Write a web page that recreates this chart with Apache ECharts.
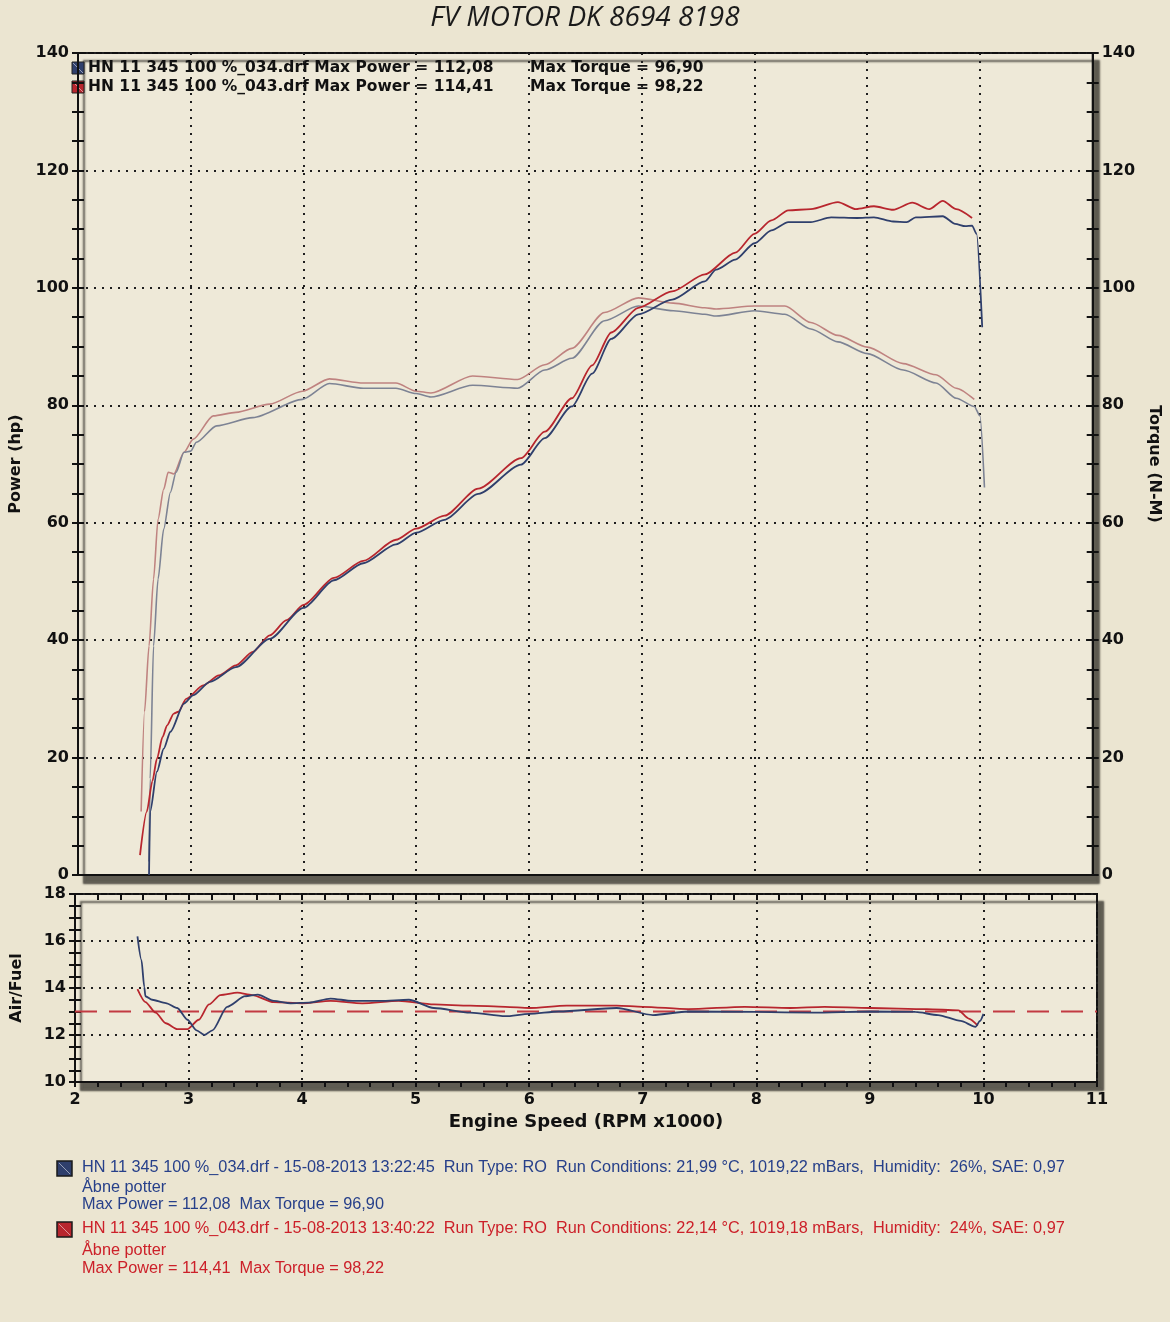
<!DOCTYPE html>
<html>
<head>
<meta charset="utf-8">
<title>FV MOTOR DK 8694 8198</title>
<script src="https://cdn.jsdelivr.net/npm/echarts@6/dist/echarts.min.js"></script>
<style>
  html, body { margin: 0; padding: 0; background: #ebe5d1; }
  #main { width: 1170px; height: 1322px; }
</style>
</head>
<body>
<div id="main"></div>
<script>
// --- data (rpm x1000) ---
var redPowerRpm = [2.55, 2.61, 2.66, 2.70, 2.75, 2.79, 2.85, 2.89, 2.96, 3.11, 3.25, 3.40, 3.55, 3.70, 3.85, 4.00, 4.27, 4.53, 4.82, 5.00, 5.25, 5.55, 5.93, 6.14, 6.38, 6.56, 6.73, 6.97, 7.27, 7.56, 7.83, 8.00, 8.15, 8.30, 8.50, 8.74, 8.90, 9.06, 9.23, 9.40, 9.55, 9.67, 9.79, 9.93];
var redPower    = [3.4, 10.8, 16.0, 19.8, 23.5, 25.5, 27.5, 27.8, 30.0, 32.3, 34.0, 35.7, 38.0, 40.8, 43.4, 46.0, 50.6, 53.5, 57.1, 59.0, 61.2, 65.8, 71.0, 75.5, 81.2, 86.8, 92.4, 96.6, 99.4, 102.3, 106.0, 109.2, 111.5, 113.2, 113.4, 114.6, 113.4, 113.9, 113.3, 114.5, 113.4, 114.8, 113.4, 111.9];

var bluePowerRpm = [2.63, 2.64, 2.70, 2.76, 2.82, 2.94, 3.02, 3.17, 3.40, 3.70, 4.00, 4.27, 4.53, 4.82, 5.00, 5.25, 5.55, 5.93, 6.14, 6.38, 6.56, 6.73, 6.97, 7.27, 7.56, 7.66, 7.83, 8.00, 8.15, 8.30, 8.50, 8.68, 8.91, 9.06, 9.23, 9.35, 9.43, 9.67, 9.78, 9.87, 9.93, 9.97, 10.02];
var bluePower    = [0, 10.8, 17.6, 21.5, 24.4, 29.2, 30.6, 32.9, 35.4, 40.2, 45.5, 50.2, 53.1, 56.3, 58.3, 60.5, 64.9, 69.9, 74.4, 79.8, 85.4, 91.3, 95.5, 98.0, 101.1, 103.1, 104.8, 107.6, 109.8, 111.2, 111.2, 112.0, 111.9, 112.0, 111.3, 111.2, 112.0, 112.2, 110.9, 110.5, 110.6, 109.2, 93.3];

var redTorqueRpm = [2.56, 2.59, 2.63, 2.67, 2.71, 2.76, 2.80, 2.85, 2.94, 3.02, 3.20, 3.40, 3.70, 3.99, 4.23, 4.53, 4.82, 5.00, 5.13, 5.50, 5.90, 6.14, 6.38, 6.67, 6.97, 7.28, 7.56, 7.66, 8.00, 8.27, 8.50, 8.74, 9.00, 9.32, 9.61, 9.79, 9.95];
var redTorque    = [10.8, 27.8, 39.0, 50.4, 60.6, 65.7, 68.6, 68.3, 72.0, 74.2, 78.2, 78.8, 80.2, 82.4, 84.5, 83.8, 83.8, 82.4, 82.1, 85.0, 84.4, 86.9, 89.7, 95.8, 98.3, 97.4, 96.6, 96.4, 96.9, 96.9, 94.1, 91.9, 89.9, 87.1, 85.2, 82.9, 81.0];

var blueTorqueRpm = [2.63, 2.64, 2.67, 2.71, 2.76, 2.82, 2.87, 2.94, 3.00, 3.05, 3.23, 3.55, 3.99, 4.23, 4.53, 4.82, 5.00, 5.13, 5.50, 5.90, 6.14, 6.38, 6.67, 6.97, 7.28, 7.56, 7.66, 8.00, 8.27, 8.50, 8.74, 9.00, 9.32, 9.61, 9.79, 9.95, 10.00, 10.04];
var blueTorque    = [2.3, 16.4, 39.0, 50.4, 58.9, 65.2, 68.6, 72.0, 72.2, 73.7, 76.5, 77.9, 81.0, 83.7, 82.9, 82.9, 82.0, 81.4, 83.4, 82.9, 86.0, 88.0, 94.4, 96.9, 96.1, 95.5, 95.2, 96.1, 95.5, 93.0, 90.8, 88.8, 86.0, 83.8, 81.2, 79.8, 78.2, 66.0];

var redAfrRpm = [2.55, 2.62, 2.71, 2.80, 2.90, 2.99, 3.09, 3.18, 3.28, 3.43, 3.56, 3.75, 4.00, 4.25, 4.53, 4.85, 5.16, 5.48, 5.79, 6.00, 6.33, 6.77, 7.00, 7.40, 7.90, 8.30, 8.60, 9.00, 9.50, 9.78, 9.87, 9.95];
var redAfr    = [13.95, 13.4, 12.95, 12.5, 12.25, 12.25, 12.65, 13.3, 13.7, 13.8, 13.7, 13.4, 13.35, 13.45, 13.35, 13.45, 13.3, 13.25, 13.2, 13.15, 13.25, 13.25, 13.2, 13.1, 13.2, 13.15, 13.2, 13.15, 13.1, 13.05, 12.7, 12.4];

var blueAfrRpm = [2.55, 2.585, 2.61, 2.62, 2.68, 2.80, 2.90, 2.99, 3.07, 3.14, 3.21, 3.34, 3.50, 3.61, 3.75, 3.90, 4.06, 4.25, 4.44, 4.69, 4.94, 5.16, 5.48, 5.79, 6.00, 6.26, 6.77, 7.09, 7.40, 8.00, 8.50, 9.00, 9.40, 9.60, 9.80, 9.93, 9.97, 10.00];
var blueAfr    = [16.2, 15.2, 14.05, 13.65, 13.5, 13.36, 13.15, 12.65, 12.2, 12.0, 12.2, 13.2, 13.65, 13.72, 13.45, 13.35, 13.38, 13.55, 13.45, 13.45, 13.5, 13.15, 12.95, 12.8, 12.9, 13.0, 13.15, 12.85, 13.0, 12.98, 12.95, 13.0, 12.98, 12.85, 12.6, 12.35, 12.6, 12.9];

var targetAfrRpm = [2, 11];
var targetAfr    = [13, 13];

var powerTicks  = [0, 140, 20];
var afrTicks    = [10, 18, 2];
var rpmRange    = [2, 11];

var legendRows = [
    ['HN 11 345 100 %_034.drf Max Power = 112,08', 'Max Torque = 96,90'],
    ['HN 11 345 100 %_043.drf Max Power = 114,41', 'Max Torque = 98,22']
];
var footBlue = [
    'HN 11 345 100 %_034.drf - 15-08-2013 13:22:45  Run Type: RO  Run Conditions: 21,99 \u00b0C, 1019,22 mBars,  Humidity:  26%, SAE: 0,97',
    '\u00c5bne potter',
    'Max Power = 112,08  Max Torque = 96,90'
];
var footRed = [
    'HN 11 345 100 %_043.drf - 15-08-2013 13:40:22  Run Type: RO  Run Conditions: 22,14 \u00b0C, 1019,18 mBars,  Humidity:  24%, SAE: 0,97',
    '\u00c5bne potter',
    'Max Power = 114,41  Max Torque = 98,22'
];

var BLUE = '#2f3f6c', RED = '#b8262e';
var BLUE_T = '#7d8394', RED_T = '#bf8380';
var BLUE_TXT = '#27408a', RED_TXT = '#cc2029';

function zip(xs, ys) {
    var out = [];
    for (var i = 0; i < xs.length; i++) out.push([xs[i], ys[i]]);
    return out;
}

var chart = echarts.init(document.getElementById('main'));

var dotted = { show: true, lineStyle: { color: '#1e1e1e', width: 2, type: [2, 6] } };
var axisFont = { fontFamily: 'DejaVu Sans', fontWeight: 'bold', fontSize: 16, color: '#111' };
var nameFont = { fontFamily: 'DejaVu Sans', fontWeight: 'bold', fontSize: 16, color: '#111' };

function valueY(grid, pos, ticks, extra) {
    var ax = {
        type: 'value', gridIndex: grid, position: pos,
        min: ticks[0], max: ticks[1], interval: ticks[2],
        axisLine: { show: true, onZero: false, lineStyle: { color: '#111', width: 2 } },
        axisTick: { show: true, length: 6, lineStyle: { color: '#111', width: 2 } },
        minorTick: { show: true, splitNumber: 4, length: 6, lineStyle: { color: '#111', width: 2 } },
        axisLabel: Object.assign({ margin: 9 }, axisFont),
        splitLine: { show: false }
    };
    return Object.assign(ax, extra || {});
}

function innerTicks(grid, pos, ticks) {
    return {
        type: 'value', gridIndex: grid, position: pos,
        min: ticks[0], max: ticks[1], interval: ticks[2],
        axisLine: { show: false },
        axisTick: { show: true, inside: true, length: 6, lineStyle: { color: '#111', width: 2 } },
        minorTick: { show: true, splitNumber: 4, length: 6, lineStyle: { color: '#111', width: 2 } },
        axisLabel: { show: false }, splitLine: { show: false }
    };
}

function line(xi, yi, xs, ys, color, width, extra) {
    return Object.assign({
        type: 'line', xAxisIndex: xi, yAxisIndex: yi,
        data: zip(xs, ys), showSymbol: false, symbol: 'none',
        smooth: 0.25, smoothMonotone: 'x', silent: true,
        lineStyle: { color: color, width: width }
    }, extra || {});
}

var gridBox = {
    show: true, backgroundColor: '#eee9d8', borderColor: '#111', borderWidth: 2,
    shadowColor: 'rgba(70,68,60,0.85)', shadowBlur: 2, shadowOffsetX: 6, shadowOffsetY: 8
};

var graphics = [
    { type: 'text', left: 'center', top: 4,
      style: { text: 'FV MOTOR DK 8694 8198', font: 'italic 28px "Open Sans"', fill: '#1a1a1a' } }
];
var legendColors = [BLUE, RED];
legendRows.forEach(function (row, i) {
    var y = 60 + i * 19;
    graphics.push({ type: 'rect', shape: { x: 72, y: y + 2, width: 12, height: 12 },
        style: { fill: legendColors[i], stroke: '#222', lineWidth: 1 } });
    graphics.push({ type: 'line', shape: { x1: 73, y1: y + 3, x2: 83, y2: y + 13 },
        style: { stroke: 'rgba(255,255,255,0.5)', lineWidth: 1 } });
    graphics.push({ type: 'text', x: 88, y: y,
        style: { text: row[0], font: 'bold 15.5px "DejaVu Sans"', fill: '#111' } });
    graphics.push({ type: 'text', x: 530, y: y,
        style: { text: row[1], font: 'bold 15.5px "DejaVu Sans"', fill: '#111' } });
});
function footer(lines, color, top, gaps) {
    graphics.push({ type: 'rect', shape: { x: 57, y: top + 1, width: 15, height: 15 },
        style: { fill: color, stroke: '#1a1a1a', lineWidth: 1.5 } });
    graphics.push({ type: 'line', shape: { x1: 59, y1: top + 3, x2: 70, y2: top + 14 },
        style: { stroke: 'rgba(255,255,255,0.5)', lineWidth: 1 } });
    lines.forEach(function (t, i) {
        graphics.push({ type: 'text', x: 82, y: top + gaps[i],
            style: { text: t, font: '16.3px "Liberation Sans Narrow", "Liberation Sans"',
                     fill: color === BLUE ? BLUE_TXT : RED_TXT } });
    });
}
footer(footBlue, BLUE, 1160, [0, 20, 37]);
footer(footRed, RED, 1221, [0, 22, 40]);

var option = {
    backgroundColor: '#ebe5d1',
    animation: false,
    grid: [
        Object.assign({ left: 75, top: 53, width: 1022, height: 822 }, gridBox),
        Object.assign({ left: 75, top: 894, width: 1022, height: 188 }, gridBox)
    ],
    xAxis: [
        { type: 'value', gridIndex: 0, min: rpmRange[0], max: rpmRange[1], interval: 1,
          axisLine: { show: true, lineStyle: { color: '#111', width: 2 } },
          axisTick: { show: false }, axisLabel: { show: false }, splitLine: dotted },
        { type: 'value', gridIndex: 1, min: rpmRange[0], max: rpmRange[1], interval: 1,
          name: 'Engine Speed (RPM x1000)', nameLocation: 'middle', nameGap: 31,
          nameTextStyle: Object.assign({}, nameFont, { fontSize: 18 }),
          axisLine: { show: true, onZero: false, lineStyle: { color: '#111', width: 2 } },
          axisTick: { show: true, length: 5, lineStyle: { color: '#111', width: 2 } },
          minorTick: { show: true, splitNumber: 5, length: 5, lineStyle: { color: '#111', width: 2 } },
          axisLabel: Object.assign({ margin: 10 }, axisFont, { fontSize: 16 }),
          splitLine: dotted },
        { type: 'value', gridIndex: 1, min: rpmRange[0], max: rpmRange[1], interval: 1,
          axisLine: { show: false },
          axisTick: { show: true, inside: true, length: 6, lineStyle: { color: '#111', width: 2 } },
          minorTick: { show: true, splitNumber: 5, length: 6, lineStyle: { color: '#111', width: 2 } },
          axisLabel: { show: false }, splitLine: { show: false } }
    ],
    yAxis: [
        valueY(0, 'left', powerTicks, { name: 'Power (hp)', nameLocation: 'middle', nameGap: 54,
            nameRotate: 90, nameTextStyle: nameFont, splitLine: dotted }),
        valueY(0, 'right', powerTicks, { name: 'Torque (N-M)', nameLocation: 'middle', nameGap: 52,
            nameRotate: -90, nameTextStyle: nameFont }),
        valueY(1, 'left', afrTicks, { name: 'Air/Fuel', nameLocation: 'middle', nameGap: 50,
            nameRotate: 90, nameTextStyle: nameFont, splitLine: dotted }),
        innerTicks(0, 'left', powerTicks),
        innerTicks(0, 'right', powerTicks),
        innerTicks(1, 'left', afrTicks)
    ],
    series: [
        line(0, 1, redTorqueRpm, redTorque, RED_T, 1.6),
        line(0, 1, blueTorqueRpm, blueTorque, BLUE_T, 1.6),
        line(0, 0, redPowerRpm, redPower, RED, 1.8),
        line(0, 0, bluePowerRpm, bluePower, BLUE, 1.8),
        line(1, 2, targetAfrRpm, targetAfr, RED, 1.8, { smooth: false,
            lineStyle: { color: '#c23a42', width: 1.8, type: [22, 12] } }),
        line(1, 2, redAfrRpm, redAfr, RED, 1.8),
        line(1, 2, blueAfrRpm, blueAfr, BLUE, 1.8)
    ],
    graphic: graphics
};

chart.setOption(option);
</script>
</body>
</html>
